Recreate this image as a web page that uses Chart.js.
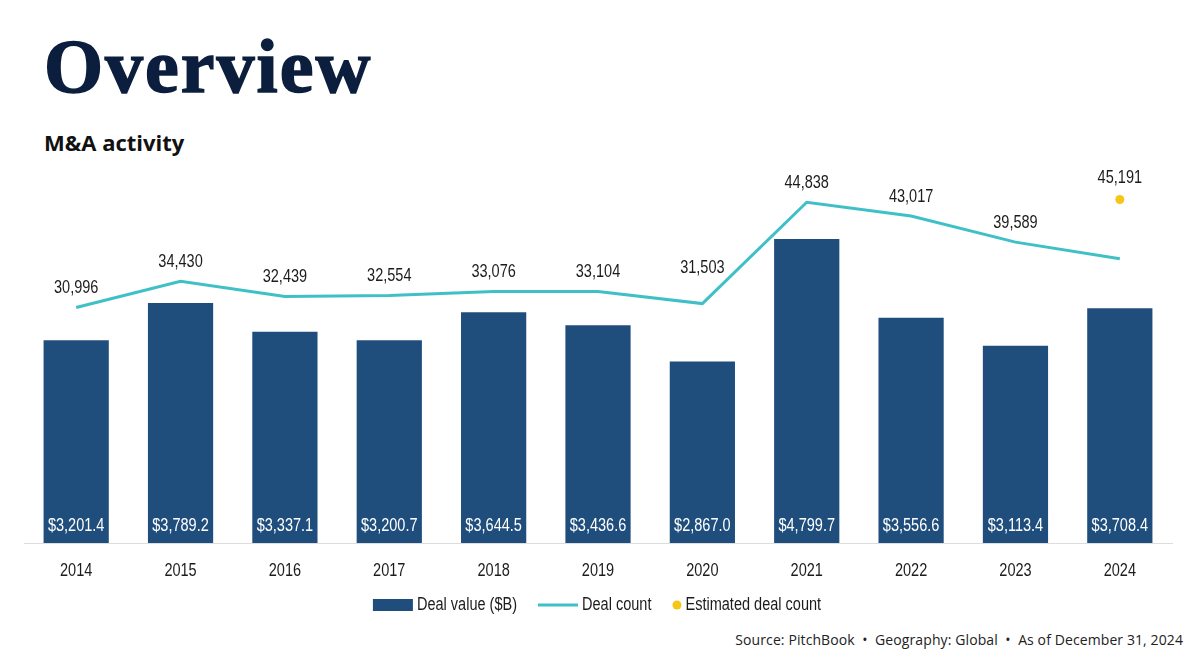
<!DOCTYPE html>
<html>
<head>
<meta charset="utf-8">
<script src="https://cdn.jsdelivr.net/npm/chart.js@4"></script>
<style>
  html, body { margin: 0; padding: 0; background: #fff; }
  #page { position: relative; width: 1200px; height: 671px; overflow: hidden; }
  #title {
    position: absolute; left: 44px; top: 28px;
    font: 700 76px/1 'Liberation Serif', 'DejaVu Serif', serif;
    color: #0c1e3d; letter-spacing: 2px;
    -webkit-text-stroke: 1.5px #0c1e3d;
  }
  #subtitle {
    position: absolute; left: 44px; top: 131px;
    font: 700 22px/1 'Open Sans', sans-serif; color: #111;
  }
  #chartWrap { position: absolute; left: 0; top: 150px; width: 1200px; height: 480px; }
  #source {
    position: absolute; right: 17px; top: 633px;
    font: 14px/1 'Open Sans', sans-serif; color: #222; letter-spacing: 0.1px;
  }
</style>
</head>
<body>
<div id="page">
  <div id="title">Overview</div>
  <div id="subtitle">M&amp;A activity</div>
  <div id="chartWrap"><canvas id="chart" width="1200" height="480"></canvas></div>
  <div id="source">Source: PitchBook &nbsp;•&nbsp; Geography: Global &nbsp;•&nbsp; As of December 31, 2024</div>
</div>
<script>
// ======================================
// Data
// ======================================
const years = ['2014', '2015', '2016', '2017', '2018', '2019', '2020', '2021', '2022', '2023', '2024'];
const dealValue = [3201.4, 3789.2, 3337.1, 3200.7, 3644.5, 3436.6, 2867.0, 4799.7, 3556.6, 3113.4, 3708.4];
const dealCount = [30996, 34430, 32439, 32554, 33076, 33104, 31503, 44838, 43017, 39589, 37400];
const estimatedCount = [null, null, null, null, null, null, null, null, null, null, 45191];
// last actual count (2024, year to date) carries no label in the source
const labeledCountYears = ['2014', '2015', '2016', '2017', '2018', '2019', '2020', '2021', '2022', '2023'];

const NAVY = '#1f4e7d';
const TEAL = '#3fc0c6';
const GOLD = '#f5c518';
const INK = '#1c1c1c';
const FONT = "'Liberation Sans', Arial, sans-serif";
const SQUEEZE = 0.83; // the source uses a condensed face

// condensed text helper
function narrowText(ctx, text, x, y, align) {
  ctx.save();
  ctx.translate(x, y);
  ctx.scale(SQUEEZE, 1);
  ctx.textAlign = align || 'center';
  ctx.fillText(text, 0, 0);
  ctx.restore();
}
function narrowWidth(ctx, text) {
  return ctx.measureText(text).width * SQUEEZE;
}

// ======================================
// Labels, ticks and legend plugin
// ======================================
const fmt0 = v => v.toLocaleString('en-US');
const fmtMoney = v => '$' + v.toLocaleString('en-US', { minimumFractionDigits: 1, maximumFractionDigits: 1 });
const labelLift = { '2020': 16 }; // steep rise right after, keep label clear of the line

const overlay = {
  id: 'overlay',
  afterDatasetsDraw(chart) {
    const ctx = chart.ctx;
    const area = chart.chartArea;
    ctx.save();
    ctx.font = `17.5px ${FONT}`;
    ctx.textBaseline = 'middle';

    // bar values, white, near the bottom of each bar
    const bars = chart.getDatasetMeta(0).data;
    ctx.fillStyle = '#ffffff';
    bars.forEach((el, i) => narrowText(ctx, fmtMoney(dealValue[i]), el.x, el.base - 17));

    // deal count values above the line
    const pts = chart.getDatasetMeta(1).data;
    ctx.fillStyle = INK;
    pts.forEach((el, i) => {
      if (!labeledCountYears.includes(years[i])) return;
      const lift = 19 + (labelLift[years[i]] || 0);
      narrowText(ctx, fmt0(dealCount[i]), el.x, el.y - lift);
    });

    // estimated count
    chart.getDatasetMeta(2).data.forEach((el, i) => {
      if (estimatedCount[i] == null) return;
      narrowText(ctx, fmt0(estimatedCount[i]), el.x, el.y - 21);
    });

    // category labels
    const xs = chart.scales.x;
    years.forEach((y, i) => narrowText(ctx, y, xs.getPixelForValue(i), area.bottom + 28));

    // legend
    const ly = area.bottom + 62;
    const items = [
      { text: 'Deal value ($B)', sw: 40, draw: x => { ctx.fillStyle = NAVY; ctx.fillRect(x, ly - 6, 40, 12); } },
      { text: 'Deal count', sw: 40, draw: x => { ctx.fillStyle = TEAL; ctx.fillRect(x, ly - 1.5, 40, 3); } },
      { text: 'Estimated deal count', sw: 9, draw: x => {
          ctx.fillStyle = GOLD; ctx.beginPath(); ctx.arc(x + 4.5, ly, 4.5, 0, Math.PI * 2); ctx.fill();
        } }
    ];
    const swGap = 4, itemGap = 21;
    const widths = items.map(it => it.sw + swGap + narrowWidth(ctx, it.text));
    const total = widths.reduce((a, b) => a + b, 0) + itemGap * (items.length - 1);
    let x = 597 - total / 2;
    items.forEach((it, i) => {
      it.draw(x);
      ctx.fillStyle = INK;
      narrowText(ctx, it.text, x + it.sw + swGap, ly, 'left');
      x += widths[i] + itemGap;
    });
    ctx.restore();
  }
};

// ======================================
// Chart
// ======================================
new Chart(document.getElementById('chart'), {
  data: {
    labels: years,
    datasets: [
      {
        type: 'bar',
        label: 'Deal value ($B)',
        data: dealValue,
        backgroundColor: NAVY,
        yAxisID: 'yValue',
        barPercentage: 0.625,
        categoryPercentage: 1,
        order: 3
      },
      {
        type: 'line',
        label: 'Deal count',
        data: dealCount,
        borderColor: TEAL,
        borderWidth: 3,
        pointRadius: 0,
        tension: 0,
        yAxisID: 'yCount',
        order: 2
      },
      {
        type: 'line',
        label: 'Estimated deal count',
        data: estimatedCount,
        showLine: false,
        pointRadius: 4.5,
        pointBackgroundColor: GOLD,
        pointBorderWidth: 0,
        yAxisID: 'yCount',
        order: 1
      }
    ]
  },
  options: {
    responsive: false,
    animation: false,
    layout: { padding: { left: 24, right: 28, top: 13, bottom: 40 } },
    plugins: {
      legend: { display: false },
      tooltip: { enabled: false }
    },
    scales: {
      x: {
        grid: { display: false },
        border: { display: true, color: '#dddddd', width: 1 },
        ticks: { display: false },
        afterFit: s => { s.height = 47; }
      },
      yValue: { display: false, position: 'left', min: 0, max: 6000 },
      yCount: { display: false, position: 'right', min: 0, max: 50000 }
    }
  },
  plugins: [overlay]
});
</script>
</body>
</html>
